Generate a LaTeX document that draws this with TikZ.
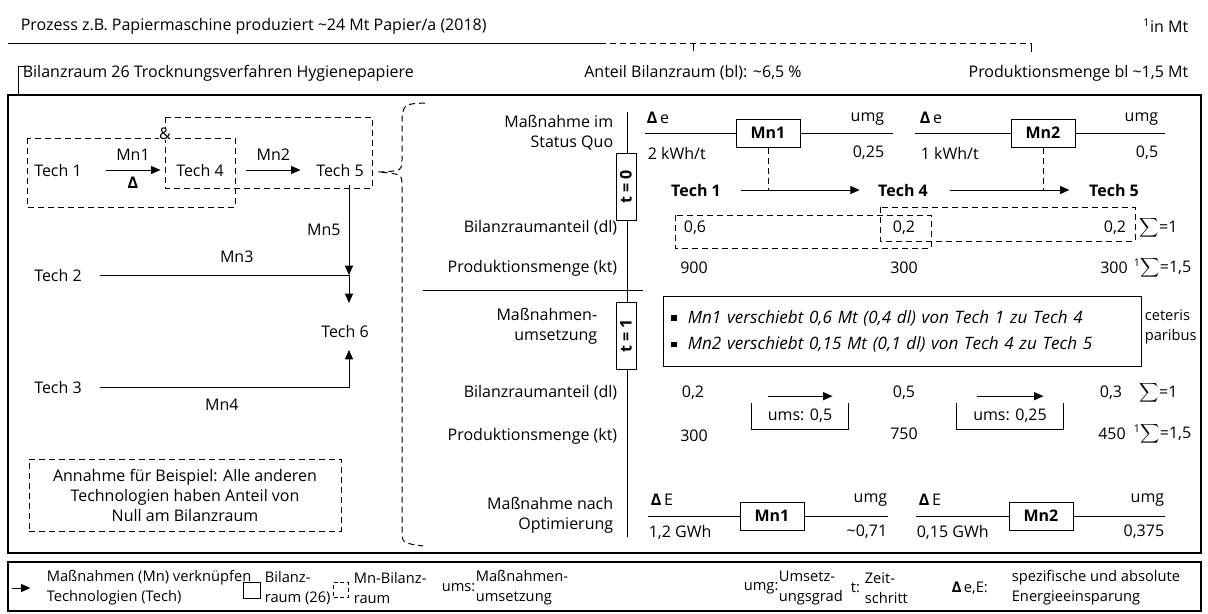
\documentclass[tikz,border=0pt]{standalone}
\usepackage{fontspec}
\setmainfont{Open Sans}
\usetikzlibrary{arrows.meta,positioning}
\newcommand{\nsize}{\fontsize{12pt}{15pt}\selectfont}
\newcommand{\lsize}{\fontsize{11pt}{15pt}\selectfont}
\newcommand{\isize}{\fontsize{12.8pt}{15pt}\selectfont}
\newcommand{\sqb}{\raisebox{2pt}{\rule{4pt}{4pt}}}
\newcommand{\bsum}{$\displaystyle\sum$}

\begin{document}
\begin{tikzpicture}[
    x=0.75pt, y=-0.75pt,
    line width=0.75pt,
    every node/.style={font=\nsize, inner sep=1pt},
    frame/.style={draw, line width=1.2pt},
    dbox/.style={draw, dash pattern=on 4.5pt off 3pt},
    mnbox/.style={draw, minimum width=48pt, minimum height=21pt, font=\nsize\bfseries},
    tbox/.style={draw, fill=white, rotate=90, minimum width=50pt, minimum height=15pt,
        inner sep=0pt, font=\nsize\bfseries},
    arrow/.style={-{Triangle[length=7pt, width=6pt]}},
    rowlabel/.style={anchor=east, align=right},
    tech/.style={font=\nsize\bfseries},
    umsbox/.style={minimum height=19pt},
    legend/.style={anchor=west, align=left, font=\lsize}
]
\useasboundingbox (0,0) rectangle (1208,614);

% Kopfzeilen
\node[anchor=west] (proc) at (19,26)
  {Prozess z.B. Papiermaschine produziert \textasciitilde24 Mt Papier/a (2018)};
\node[anchor=east] (unit) at (1190,26) {\textsuperscript{1}in Mt};
\coordinate (hl) at (8,43);
\coordinate (hm) at (600,43);
\coordinate (hr) at (1031,43);
\draw (hl) -- (hm);
\draw[dbox] (hm) -- (hr);
\draw (hr) -- ++(0,9);
\draw (693,43) -- (693,51);

\node[anchor=west] (bil) at (21,73) {Bilanzraum 26 Trocknungsverfahren Hygienepapiere};
\draw (25,66) -| (18,95);
\node (anteil) at (693,73) {Anteil Bilanzraum (bl): \textasciitilde6,5 \%};
\node[anchor=east] (pmenge) at (1190,73) {Produktionsmenge bl \textasciitilde1,5 Mt};

\draw[frame] (8,95) rectangle (1201,553);
\draw[frame] (8,562) rectangle (1201,611);

% Technologien links
\node (t1) at (58,170) {Tech 1};
\node (t4) at (200,170) {Tech 4};
\node (t5) at (340,170) {Tech 5};
\node (t2) at (58,275) {Tech 2};
\node (t6) at (345,331) {Tech 6};
\node (t3) at (58,387) {Tech 3};

\draw[dbox] (27,138) rectangle (235,207);
\draw[dbox] (165,117) rectangle (372,188);
\node[fill=white, inner sep=0.3pt] (amp) at (165,134) {\&};

\draw[arrow] ([xshift=16.5pt]t1.east) -- node[above=6pt] (mn1l) {Mn1}
  node[below=4pt, font=\nsize\bfseries] (dl) {Δ} ([xshift=-10.5pt]t4.west);
\draw[arrow] ([xshift=15.5pt]t4.east) -- node[above=6pt] (mn2l) {Mn2} ([xshift=-10.5pt]t5.west);

\coordinate (j2) at (349,275);
\coordinate (a6) at (349,303);
\coordinate (b6) at (349,350);
\draw[arrow] (t5.south -| j2) ++(0,7) -- node[left=5pt] (mn5l) {Mn5} (j2);
\draw[arrow] ([xshift=12pt]t2.east) -- node[above=8pt, pos=0.55] (mn3l) {Mn3} (j2) -- (a6);
\draw[arrow] ([xshift=12pt]t3.east) -- node[below=8pt, pos=0.49] (mn4l) {Mn4} (b6 |- t3) -- (b6);

\node[dbox, align=center, minimum width=234pt, minimum height=54pt] (note) at (185,495)
  {Annahme für Beispiel: Alle anderen\\Technologien haben Anteil von\\Null am Bilanzraum};

% Klammer
\draw[dbox] (425,103) .. controls (404,104) .. (402,118) -- (402,160)
  .. controls (402,171) .. (378,172) .. controls (402,174) .. (402,186)
  -- (402,530) .. controls (402,543) .. (423,546);

% Zeitachse
\coordinate (tltop) at (627,112);
\coordinate (tlbot) at (627,537);
\draw (tltop) -- (tlbot);
\draw (423,290) -- (643,290);
\node[tbox] (tzero) at (626,187) {t = 0};
\node[tbox] (tone) at (626,336) {t = 1};

\node[rowlabel] (rsq) at (615,133) {Maßnahme im\\Status Quo};
\node[rowlabel] (rbil0) at (619,228) {Bilanzraumanteil (dl)};
\node[rowlabel] (rprod0) at (619,268) {Produktionsmenge (kt)};
\node[rowlabel] (rums) at (599,326) {Maßnahmen-\\umsetzung};
\node[rowlabel] (rbil1) at (619,393) {Bilanzraumanteil (dl)};
\node[rowlabel] (rprod1) at (619,436) {Produktionsmenge (kt)};
\node[rowlabel] (ropt) at (615,515) {Maßnahme nach\\Optimierung};

% Massnahmen im Status Quo
\node[mnbox] (sqmn1) at (768,133) {Mn1};
\coordinate (sq1l) at (645,133);
\coordinate (sq1r) at (893,133);
\draw (sq1l) -- (sqmn1) -- (sq1r);
\node[anchor=west] (sq1de) at (645,118) {{\bfseries Δ}\,e};
\node[anchor=west] (sq1v) at (646,153) {2 kWh/t};
\node[anchor=east] (sq1u) at (886,119) {umg};
\node[anchor=east] (sq1g) at (886,153) {0,25};

\node[mnbox] (sqmn2) at (1043,133) {Mn2};
\coordinate (sq2l) at (915,133);
\coordinate (sq2r) at (1165,133);
\draw (sq2l) -- (sqmn2) -- (sq2r);
\node[anchor=west] (sq2de) at (918,118) {{\bfseries Δ}\,e};
\node[anchor=west] (sq2v) at (919,153) {1 kWh/t};
\node[anchor=east] (sq2u) at (1160,119) {umg};
\node[anchor=east] (sq2g) at (1160,153) {0,5};

\node[tech] (q1) at (696,190) {Tech 1};
\node[tech] (q4) at (903,190) {Tech 4};
\node[tech] (q5) at (1114,190) {Tech 5};
\draw[arrow] ([xshift=13.5pt]q1.east) -- ([xshift=-12.5pt]q4.west);
\draw[arrow] ([xshift=15.5pt]q4.east) -- ([xshift=-13.5pt]q5.west);
\draw[dbox] (sqmn1.south) -- (sqmn1.south |- q1);
\draw[dbox] (sqmn2.south) -- (sqmn2.south |- q5);

% t = 0
\draw[dbox] (675,215) rectangle (931,248);
\draw[dbox] (880,207) rectangle (1135,241);
\node (v01) at (695,228) {0,6};
\node (v04) at (904,228) {0,2};
\node (v05) at (1115,228) {0,2};
\node[anchor=west] (s0) at (1138,228) {\bsum=1};
\node (p01) at (694,268) {900};
\node (p04) at (904,268) {300};
\node (p05) at (1114,268) {300};
\node[anchor=west] (ps0) at (1132,268) {\textsuperscript{1}\bsum=1,5};

% t = 1
\node[draw, text width=347pt, inner xsep=6pt, minimum height=53pt, align=left,
  font=\isize\itshape] (shift) at (902.5,331.5)
  {\sqb\ \ Mn1 verschiebt 0,6 Mt (0,4 dl) von Tech 1 zu Tech 4\\[5pt]
   \sqb\ \ Mn2 verschiebt 0,15 Mt (0,1 dl) von Tech 4 zu Tech 5};
\node[legend] (cp) at (1143,327) {ceteris\\paribus};

\node (v11) at (693,393) {0,2};
\node (v14) at (904,393) {0,5};
\node (v15) at (1111,393) {0,3};
\node[anchor=west] (s1) at (1138,393) {\bsum=1};
\node[umsbox, minimum width=72pt] (ums1) at (800,416) {ums: 0,5};
\node[umsbox, minimum width=79.5pt] (ums2) at (1010,416) {ums: 0,25};
\draw (ums1.north west) |- (ums1.south east) -- (ums1.north east);
\draw (ums2.north west) |- (ums2.south east) -- (ums2.north east);
\draw[arrow] ([xshift=12pt, yshift=5pt]ums1.north west) -- ([xshift=-12pt, yshift=5pt]ums1.north east);
\draw[arrow] ([xshift=15pt, yshift=5pt]ums2.north west) -- ([xshift=-15pt, yshift=5pt]ums2.north east);
\node (p11) at (694,436) {300};
\node (p14) at (904,434) {750};
\node (p15) at (1112,434) {450};
\node[anchor=west] (ps1) at (1132,434) {\textsuperscript{1}\bsum=1,5};

% Massnahmen nach Optimierung
\node[mnbox] (opmn1) at (772,516) {Mn1};
\coordinate (op1l) at (648,516);
\coordinate (op1r) at (888,516);
\draw (op1l) -- (opmn1) -- (op1r);
\node[anchor=west] (op1de) at (649,500) {{\bfseries Δ}\,E};
\node[anchor=west] (op1v) at (647,532) {1,2 GWh};
\node[anchor=east] (op1u) at (889,500) {umg};
\node[anchor=east] (op1g) at (889,532) {\textasciitilde0,71};

\node[mnbox] (opmn2) at (1041,516) {Mn2};
\coordinate (op2l) at (916,516);
\coordinate (op2r) at (1165,516);
\draw (op2l) -- (opmn2) -- (op2r);
\node[anchor=west] (op2de) at (917,500) {{\bfseries Δ}\,E};
\node[anchor=west] (op2v) at (915,532) {0,15 GWh};
\node[anchor=east] (op2u) at (1166,500) {umg};
\node[anchor=east] (op2g) at (1166,532) {0,375};

% Legende
\node[legend] (lg1) at (45,588) {Maßnahmen (Mn) verknüpfen\\Technologien (Tech)};
\draw[arrow] ([xshift=-25pt]lg1.west) -- ([xshift=-11pt]lg1.west);
\node[draw, minimum width=13pt, minimum height=12pt, inner sep=0pt] (lgsq) at (252,590) {};
\node[legend] (lg2) at (263,588) {Bilanz-\\raum (26)};
\node[draw, dash pattern=on 3pt off 2pt, minimum width=11pt, minimum height=11pt, inner sep=0pt]
  (lgdsq) at (341,590) {};
\node[legend] (lg3) at (352,588) {Mn-Bilanz-\\raum};
\node[legend] (lg4k) at (440,588) {ums:};
\node[legend] (lg4) at (474,588) {Maßnahmen-\\umsetzung};
\node[legend] (lg5k) at (742,588) {umg:};
\node[legend] (lg5) at (777,588) {Umsetz-\\ungsgrad};
\node[legend] (lg6k) at (849,588) {t:};
\node[legend] (lg6) at (863,588) {Zeit-\\schritt};
\node[legend] (lg7k) at (950,588) {{\bfseries Δ}\,e,E:};
\node[legend] (lg7) at (1010,588) {spezifische und absolute\\Energieeinsparung};
\end{tikzpicture}
\end{document}
